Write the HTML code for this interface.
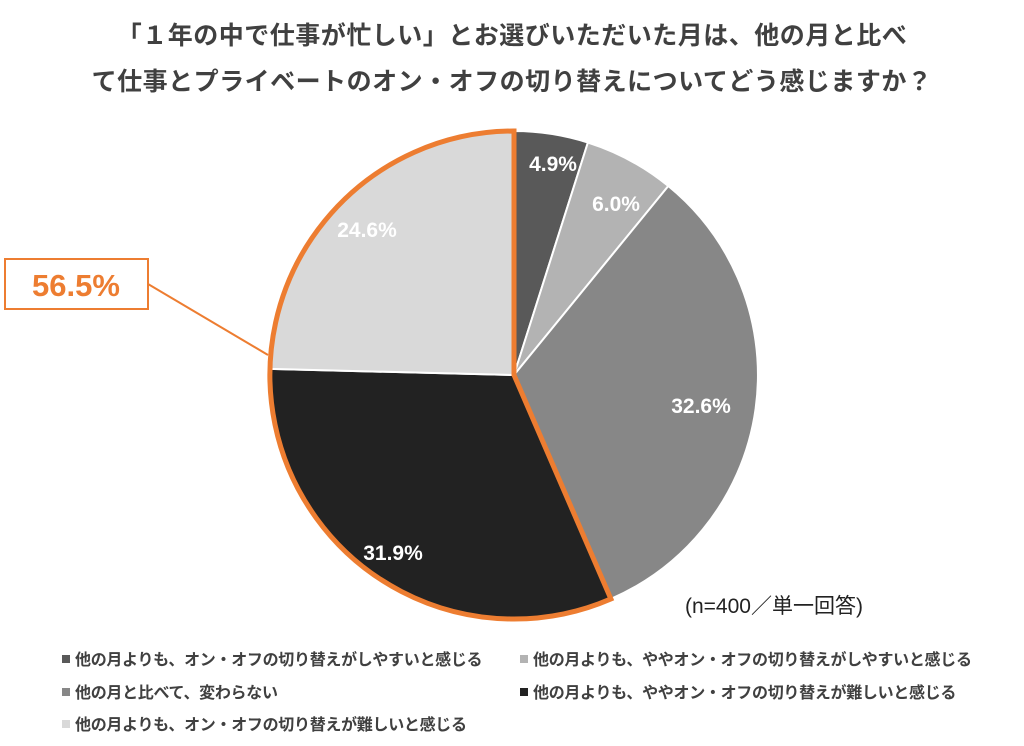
<!DOCTYPE html>
<html><head><meta charset="utf-8"><style>
body{margin:0;width:1024px;height:746px;background:#fff;font-family:"Liberation Sans","Noto Sans CJK JP",sans-serif;overflow:hidden;position:relative}
.t{position:absolute;left:0;width:1024px;text-align:center;font-weight:bold;font-size:25px;color:#404040;letter-spacing:0.5px}
.lg{position:absolute;font-size:16px;font-weight:bold;color:#404040;white-space:nowrap;letter-spacing:-0.3px}
.lg i{display:inline-block;width:8px;height:8px;margin-right:5px;vertical-align:2px}
</style></head><body>
<div class="t" style="top:16px">「１年の中で仕事が忙しい」とお選びいただいた月は、他の月と比べ</div>
<div class="t" style="top:62px">て仕事とプライベートのオン・オフの切り替えについてどう感じますか？</div>
<svg width="1024" height="746" style="position:absolute;left:0;top:0">
<g stroke="#fff" stroke-width="2">
<path d="M514,375 L514,131 A244,244 0 0 1 587.9,142.5 Z" fill="#595959"/>
<path d="M514,375 L587.9,142.5 A244,244 0 0 1 668.3,186 Z" fill="#b3b3b3"/>
<path d="M514,375 L668.3,186 A244,244 0 0 1 610.9,598.9 Z" fill="#878787"/>
<path d="M514,375 L610.9,598.9 A244,244 0 0 1 270.1,368.9 Z" fill="#222222"/>
<path d="M514,375 L270.1,368.9 A244,244 0 0 1 514,131 Z" fill="#d9d9d9"/>
</g>
<path d="M514,375 L610.9,598.9 A244,244 0 1 1 514,131 Z" fill="none" stroke="#ED7D31" stroke-width="5" stroke-linejoin="miter"/>
<g fill="#fff" font-weight="bold" font-size="21" text-anchor="middle" font-family="Liberation Sans, sans-serif">
<text x="553" y="171">4.9%</text>
<text x="616" y="211">6.0%</text>
<text x="701" y="413">32.6%</text>
<text x="393" y="560">31.9%</text>
<text x="367" y="237">24.6%</text>
</g>
<rect x="5" y="259" width="143" height="50" fill="#fff" stroke="#ED7D31" stroke-width="2"/>
<text x="76" y="296" fill="#ED7D31" font-weight="bold" font-size="31" text-anchor="middle" font-family="Liberation Sans, sans-serif">56.5%</text>
<line x1="148" y1="284" x2="268" y2="355" stroke="#ED7D31" stroke-width="2"/>
<text x="685" y="613" fill="#222" font-size="21" font-family="Liberation Sans, Noto Sans CJK JP, sans-serif">(n=400／単一回答)</text>
</svg>
<div class="lg" style="left:62px;top:646px"><i style="background:#595959"></i>他の月よりも、オン・オフの切り替えがしやすいと感じる</div>
<div class="lg" style="left:520px;top:646px"><i style="background:#b3b3b3"></i>他の月よりも、ややオン・オフの切り替えがしやすいと感じる</div>
<div class="lg" style="left:62px;top:679px"><i style="background:#878787"></i>他の月と比べて、変わらない</div>
<div class="lg" style="left:520px;top:679px"><i style="background:#222"></i>他の月よりも、ややオン・オフの切り替えが難しいと感じる</div>
<div class="lg" style="left:62px;top:711px"><i style="background:#d9d9d9"></i>他の月よりも、オン・オフの切り替えが難しいと感じる</div>
</body></html>
